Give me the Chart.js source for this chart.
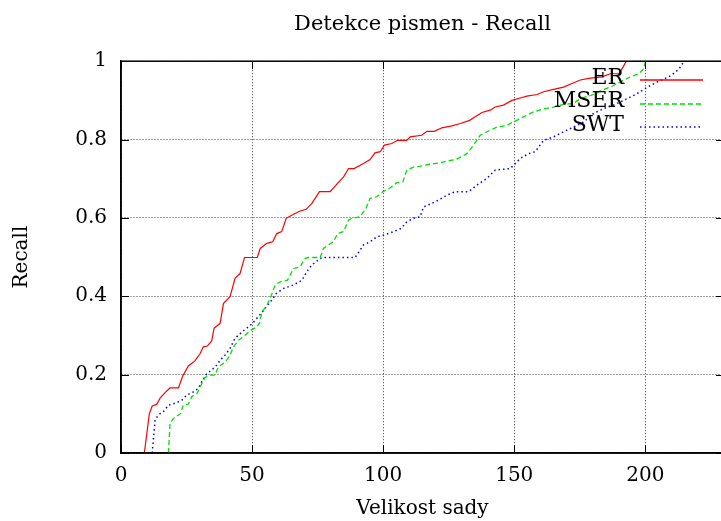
<!DOCTYPE html>
<html>
<head>
<meta charset="utf-8">
<title>Detekce pismen - Recall</title>
<script src="https://cdn.jsdelivr.net/npm/chart.js@4.4.0/dist/chart.umd.min.js"></script>
<style>
  html, body { margin: 0; padding: 0; background: #fff; overflow: hidden; }
  #wrap { position: relative; width: 730px; height: 521px; }
</style>
</head>
<body>
<div id="wrap"><canvas id="chart"></canvas></div>
<script>
// values (x = velikost sady, y = recall)
const erX = [8.9, 10.8, 11.9, 13.6, 14.9, 16.8, 18.7, 21.9, 23.5, 25.7, 28.2, 30.2, 31.4, 32.9, 34.6, 35.5, 37.8, 39.1, 41.6, 43.5, 45.4, 47.1, 52, 53.1, 55.6, 57.9, 59.4, 61.3, 63, 65.1, 68.1, 70.6, 72.8, 75.7, 79.8, 82.6, 84.9, 86.8, 88.9, 92.5, 95, 96.9, 98.9, 100.5, 103.3, 105.5, 109, 110.3, 114.7, 116.7, 119.5, 122.4, 126.2, 129.4, 133, 135.1, 137.7, 140.8, 142.7, 145.9, 149.1, 152.3, 154.8, 158.7, 161.2, 165, 168.8, 172, 175.2, 178.4, 183.5, 186.6, 189.8, 191.5, 192.7, 230];
const erY = [0, 0.10, 0.12, 0.124, 0.14, 0.154, 0.166, 0.166, 0.196, 0.222, 0.235, 0.254, 0.271, 0.273, 0.286, 0.318, 0.331, 0.382, 0.399, 0.446, 0.458, 0.499, 0.499, 0.522, 0.535, 0.539, 0.56, 0.565, 0.599, 0.607, 0.617, 0.622, 0.637, 0.667, 0.667, 0.688, 0.705, 0.726, 0.726, 0.739, 0.749, 0.766, 0.769, 0.786, 0.79, 0.798, 0.798, 0.807, 0.811, 0.821, 0.821, 0.83, 0.835, 0.841, 0.849, 0.858, 0.869, 0.875, 0.883, 0.888, 0.9, 0.906, 0.911, 0.915, 0.922, 0.928, 0.934, 0.943, 0.952, 0.956, 0.96, 0.968, 0.968, 0.985, 1, 1];

const mserX = [18.1, 18.7, 20, 21.9, 22.8, 23.7, 25.7, 27, 28.9, 30.2, 32.1, 34, 35.9, 37.1, 39.1, 40.3, 41.6, 42.9, 44.8, 46.7, 49.2, 51.8, 52.9, 53.7, 55.6, 57.5, 58.8, 60.7, 63.5, 65.8, 68.3, 70.2, 71.5, 76, 77.2, 79.1, 81, 82.6, 84.9, 86.8, 88, 91.2, 93.4, 95, 97.6, 99.9, 102.7, 105.2, 107.5, 109, 111.8, 114.1, 117.9, 121.1, 124.3, 128.1, 131.9, 134.5, 137, 139.6, 143.4, 146.6, 149.7, 153.6, 157.4, 161.2, 165, 168.8, 172.6, 175.2, 180.3, 183.5, 186.6, 190.5, 194.3, 197.5, 199.4, 200, 230];
const mserY = [0, 0.076, 0.088, 0.097, 0.101, 0.122, 0.125, 0.144, 0.151, 0.169, 0.193, 0.199, 0.199, 0.22, 0.229, 0.237, 0.25, 0.271, 0.288, 0.297, 0.312, 0.322, 0.332, 0.36, 0.376, 0.405, 0.429, 0.437, 0.441, 0.471, 0.475, 0.497, 0.499, 0.499, 0.522, 0.531, 0.539, 0.56, 0.565, 0.594, 0.599, 0.603, 0.624, 0.65, 0.654, 0.667, 0.677, 0.69, 0.692, 0.722, 0.73, 0.732, 0.737, 0.74, 0.745, 0.75, 0.764, 0.786, 0.811, 0.82, 0.832, 0.835, 0.845, 0.858, 0.871, 0.878, 0.883, 0.89, 0.892, 0.905, 0.915, 0.926, 0.934, 0.947, 0.96, 0.968, 0.981, 1, 1];

const swtX = [11.9, 13, 14.2, 16.1, 18.1, 20.6, 23.2, 25.1, 27.6, 29.5, 30.8, 32.7, 34.6, 36.5, 37.8, 39.7, 41.6, 43.1, 44.2, 46.7, 48.6, 50.3, 51.8, 53.7, 55.6, 57.5, 59.2, 62, 65.8, 69, 70.9, 72.8, 74.7, 76.6, 89.3, 91.2, 92.5, 95, 97.6, 100.1, 103.9, 106.8, 109, 111.6, 114.1, 115.4, 119.8, 124.3, 127.5, 132.6, 135.8, 139.6, 142.7, 148.5, 152.3, 155.5, 158, 161.2, 165, 168.8, 172.6, 176.5, 180.3, 184.1, 187.9, 191.7, 196.8, 200.6, 204.5, 208.9, 211.5, 213.4, 214.7, 230];
const swtY = [0, 0.084, 0.097, 0.105, 0.122, 0.127, 0.135, 0.148, 0.156, 0.165, 0.182, 0.202, 0.212, 0.224, 0.237, 0.25, 0.267, 0.288, 0.297, 0.312, 0.322, 0.332, 0.344, 0.358, 0.375, 0.39, 0.407, 0.42, 0.429, 0.441, 0.463, 0.48, 0.49, 0.499, 0.499, 0.518, 0.531, 0.539, 0.552, 0.556, 0.565, 0.573, 0.59, 0.599, 0.603, 0.628, 0.641, 0.658, 0.667, 0.667, 0.684, 0.701, 0.722, 0.726, 0.752, 0.764, 0.769, 0.798, 0.807, 0.82, 0.832, 0.845, 0.867, 0.879, 0.888, 0.9, 0.917, 0.933, 0.947, 0.96, 0.972, 0.985, 1, 1];

const seriesNames = ['ER', 'MSER', 'SWT'];
const xTicks = [0, 50, 100, 150, 200];
const yTicks = [0, 0.2, 0.4, 0.6, 0.8, 1];
const yTickLabels = ['0', '0.2', '0.4', '0.6', '0.8', '1'];

const FONT = '"DejaVu Serif", "Liberation Serif", serif';

function points(xs, ys) {
    return xs.map((x, i) => ({ x: x, y: ys[i] }));
}

// gnuplot-like frame: solid border, inward ticks, legend with text left of sample
const frame = {
    id: 'frame',
    afterDraw(chart) {
        const ctx = chart.ctx;
        const a = chart.chartArea;
        const xs = chart.scales.x, ys = chart.scales.y;
        ctx.save();
        ctx.strokeStyle = '#000';
        ctx.lineWidth = 1;
        ctx.setLineDash([]);
        ctx.beginPath();
        xs.ticks.forEach(t => {
            const px = Math.round(xs.getPixelForValue(t.value)) + 0.5;
            ctx.moveTo(px, a.bottom); ctx.lineTo(px, a.bottom - 8);
            ctx.moveTo(px, a.top); ctx.lineTo(px, a.top + 8);
        });
        ys.ticks.forEach(t => {
            const py = Math.round(ys.getPixelForValue(t.value)) + 0.5;
            ctx.moveTo(a.left, py); ctx.lineTo(a.left + 8, py);
            ctx.moveTo(a.right, py); ctx.lineTo(a.right - 8, py);
        });
        ctx.stroke();
        ctx.lineWidth = 1.5;
        ctx.strokeRect(a.left, a.top, a.right - a.left, a.bottom - a.top);

        // legend
        ctx.font = '22px ' + FONT;
        ctx.textAlign = 'right';
        ctx.textBaseline = 'middle';
        chart.data.datasets.forEach((ds, i) => {
            const y = a.top + 17 + i * 23.5;
            ctx.fillStyle = '#000';
            ctx.fillText(ds.label, a.right - 100, y);
            ctx.strokeStyle = ds.borderColor;
            ctx.lineWidth = 1.5;
            ctx.setLineDash(ds.borderDash || []);
            ctx.beginPath();
            ctx.moveTo(a.right - 84, Math.round(y) + 2);
            ctx.lineTo(a.right - 21, Math.round(y) + 2);
            ctx.stroke();
        });
        ctx.restore();
    }
};

const chart = document.querySelector('#chart').getContext('2d');

new Chart(chart, {
    type: 'line',
    data: {
        datasets: [
            {
                label: seriesNames[0],
                data: points(erX, erY),
                borderColor: '#ff0000',
                borderWidth: 1.2
            },
            {
                label: seriesNames[1],
                data: points(mserX, mserY),
                borderColor: '#00e000',
                borderWidth: 1.3,
                borderDash: [5, 3]
            },
            {
                label: seriesNames[2],
                data: points(swtX, swtY),
                borderColor: '#0000ff',
                borderWidth: 1.5,
                borderDash: [1.5, 3]
            }
        ]
    },
    options: {
        responsive: true,
        maintainAspectRatio: false,
        animation: false,
        layout: { padding: { top: 0, right: 6, bottom: 0, left: 0 } },
        elements: {
            point: { radius: 0 },
            line: { tension: 0, fill: false }
        },
        plugins: {
            legend: { display: false },
            tooltip: { enabled: false },
            title: {
                display: true,
                text: 'Detekce pismen - Recall',
                fullSize: false,
                color: '#000',
                font: { family: FONT, size: 21, weight: 'normal' },
                padding: { top: 12, bottom: 24 }
            }
        },
        scales: {
            x: {
                type: 'linear',
                min: 0,
                max: 230,
                afterFit(scale) { scale.height = 68; },
                afterBuildTicks(scale) { scale.ticks = xTicks.map(v => ({ value: v })); },
                ticks: {
                    color: '#000',
                    padding: 11,
                    maxRotation: 0,
                    font: { family: FONT, size: 20 }
                },
                grid: { color: 'rgba(0,0,0,0.75)', lineWidth: 1, drawTicks: false },
                border: { display: true, color: '#000', width: 1.5, dash: [1, 2] },
                title: {
                    display: true,
                    text: 'Velikost sady',
                    color: '#000',
                    font: { family: FONT, size: 20 },
                    padding: { top: 0, bottom: 0 }
                }
            },
            y: {
                min: 0,
                max: 1,
                afterFit(scale) { scale.width = 121; },
                afterBuildTicks(scale) { scale.ticks = yTicks.map(v => ({ value: v })); },
                ticks: {
                    color: '#000',
                    padding: 14,
                    font: { family: FONT, size: 20 },
                    callback: (value, index) => yTickLabels[index]
                },
                grid: { color: 'rgba(0,0,0,0.75)', lineWidth: 1, drawTicks: false },
                border: { display: true, color: '#000', width: 1.5, dash: [1, 2] },
                title: {
                    display: true,
                    text: 'Recall',
                    color: '#000',
                    font: { family: FONT, size: 20 },
                    padding: { top: 10, bottom: 0 }
                }
            }
        }
    },
    plugins: [frame]
});
</script>
</body>
</html>
